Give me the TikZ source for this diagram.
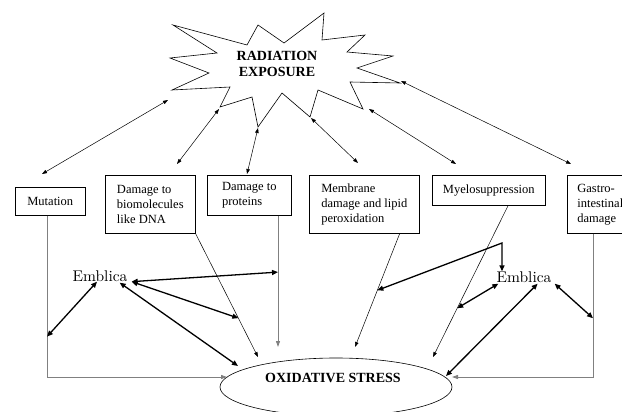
\documentclass[tikz,border=0pt]{standalone}
\usepackage{fontspec}
\newfontfamily\timesfnt{Liberation Serif}
\newfontfamily\lmtenfnt{lmroman10-regular}[Extension=.otf]
\newcommand{\boxfnt}{\timesfnt\fontsize{12.5}{15}\selectfont}
\newcommand{\capsfnt}{\timesfnt\bfseries\fontsize{14}{16}\selectfont}
\newcommand{\embfnt}{\lmtenfnt\fontsize{15.5}{18}\selectfont}
\usetikzlibrary{arrows.meta, positioning, shapes.geometric, calc}

\begin{document}
\begin{tikzpicture}[x=1pt, y=-1pt,
    box/.style={draw, anchor=north west, align=left, font=\boxfnt, inner sep=0pt, line width=0.6pt},
    dbl/.style={{Triangle[length=5pt,width=3.5pt]}-{Triangle[length=5pt,width=3.5pt]}, line width=0.5pt},
    emb/.style={{Triangle[length=6pt,width=5pt]}-{Triangle[length=6pt,width=5pt]}, line width=1.3pt},
    feed/.style={-{Triangle[length=5pt,width=3.5pt]}, line width=0.5pt},
    grayfeed/.style={-{Triangle[length=6pt,width=4pt]}, draw=gray, line width=1pt}]
    \useasboundingbox (0,0) rectangle (622,412);
    \clip (0,0) rectangle (622,412);

    % radiation burst
    \draw[line width=0.6pt] (324,13) -- (322,40) -- (365,35) -- (347,52) -- (393,56) -- (357,68)
      -- (400,83) -- (350,82) -- (363,109) -- (318,90) -- (310,117) -- (282,93) -- (258,127)
      -- (252,97) -- (220,107) -- (230,87) -- (172,90) -- (209,73) -- (170,58) -- (217,53)
      -- (173,25) -- (247,45) -- (258,25) -- (284,43) -- cycle;
    \node[font=\capsfnt, align=center] (rad) at (277,64) {RADIATION\\EXPOSURE};

    % effects
    \node[box, minimum width=70pt, minimum height=28pt] (mut) at (15,187) {Mutation};
    \node[box, minimum width=90pt, minimum height=58pt] (bio) at (105,175) {Damage to\\biomolecules\\like DNA};
    \node[box, minimum width=84pt, minimum height=40pt] (pro) at (207,175) {Damage to\\proteins};
    \node[box, minimum width=110pt, minimum height=58pt] (mem) at (309,175) {Membrane\\damage and lipid\\peroxidation};
    \node[box, minimum width=113pt, minimum height=30pt] (mye) at (432,175) {Myelosuppression};
    \node[box, minimum width=66pt, minimum height=58pt] (gas) at (567,175) {Gastro-\\intestinal\\damage};

    \node[draw, ellipse, minimum width=232pt, minimum height=58pt, line width=0.6pt] (ox) at (336,387) {};
    \node[font=\capsfnt] (oxtxt) at (333,378) {OXIDATIVE STRESS};

    \node[font=\embfnt, inner sep=0pt] (embL) at (100,276) {Emblica};
    \node[font=\embfnt, inner sep=0pt] (embR) at (524,277) {Emblica};

    % burst to effects
    \coordinate (tmut) at (168,100);
    \coordinate (tbio) at (219,109);
    \coordinate (tpro) at (258,128);
    \coordinate (tmem) at (311,118);
    \coordinate (tmye) at (369,109);
    \coordinate (tgas) at (401,81);
    \draw[dbl] (tmut) -- ($(mut.north west)+(27,-13)$);
    \draw[dbl] (tbio) -- ($(bio.north west)+(72,-11)$);
    \draw[dbl] (tpro) -- ($(pro.north west)+(40,-1)$);
    \draw[dbl] (tmem) -- ($(mem.north west)+(49,-12)$);
    \draw[dbl] (tmye) -- ($(mye.north west)+(24,-11)$);
    \draw[dbl] (tgas) -- ($(gas.north west)+(4,-11)$);

    % effects to oxidative stress
    \coordinate (mutcorner) at (47,377);
    \coordinate (gascorner) at (593,377);
    \coordinate (oxL) at (227,377);
    \coordinate (oxR) at (452,377);
    \coordinate (proend) at (278,347);
    \coordinate (bioend) at (258,357);
    \coordinate (memstart) at ($(mem.south west)!0.82!(mem.south east)$);
    \coordinate (memend) at (355,347);
    \coordinate (myestart) at ($(mye.south west)!0.67!(mye.south east)$);
    \coordinate (myeend) at (433,357);
    \draw[grayfeed] (mut.south -| mutcorner) -- (mutcorner) -- (oxL);
    \draw[grayfeed] (gas.south -| gascorner) -- (gascorner) -- (oxR);
    \draw[grayfeed] (pro.south -| proend) -- (proend);
    \draw[feed] (bio.south east) -- (bioend);
    \draw[feed] (memstart) -- (memend);
    \draw[feed] (myestart) -- (myeend);

    % emblica, left
    \draw[emb] ($(embL.south)+(-3,0)$) -- ($(mut.south -| mutcorner)!0.75!(mutcorner)$);
    \draw[emb] ($(embL.south east)+(4,0)$) -- ($(pro.south -| proend)!0.43!(proend)$);
    \draw[emb] ($(embL.south east)+(4,0)$) -- ($(bio.south east)!0.685!(bioend)$);
    \draw[emb] ($(embL.south east)+(-8,1)$) -- (238,366);

    % emblica, right
    \coordinate (vtop) at (502,243);
    \draw[emb] ($(memstart)!0.5!(memend)$) -- (vtop) -- (vtop |- embR.north);
    \draw[emb] ($(embR.south west)+(2,1)$) -- ($(myestart)!0.678!(myeend)$);
    \draw[emb] ($(embR.south east)+(-14,1)$) -- (446,376);
    \draw[emb] ($(embR.south east)+(3,1)$) -- ($(gas.south -| gascorner)!0.59!(gascorner)$);
\end{tikzpicture}
\end{document}
